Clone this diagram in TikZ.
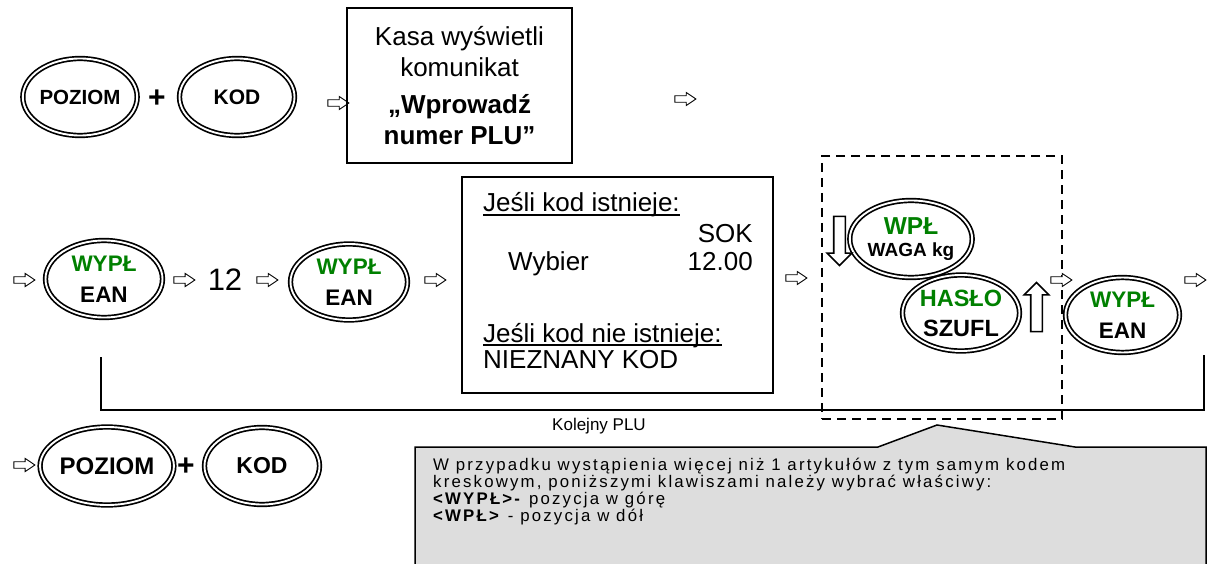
\documentclass[tikz,border=0pt]{standalone}
\usepackage{fontspec}
\setmainfont{Liberation Sans}
\newfontfamily\spacedfont[LetterSpace=13]{Liberation Sans}
\usetikzlibrary{shapes.geometric,shapes.arrows}
\definecolor{keygreen}{RGB}{0,128,0}
\definecolor{calloutgray}{RGB}{221,221,221}
\begin{document}
\begin{tikzpicture}[x=1pt,y=-1pt,
  key/.style={ellipse, draw, double, double distance=1.9pt, line width=1.7pt, inner sep=0pt, align=center,
    font=\fontsize{22.5}{31}\selectfont\bfseries},
  harrow/.style={single arrow, draw, fill=white, line width=0.9pt, minimum height=21pt, inner sep=2.8pt,
    single arrow head extend=3.3pt, single arrow tip angle=68},
  bigarrow/.style={single arrow, draw, fill=white, line width=1.6pt, minimum height=49pt, inner sep=5pt,
    single arrow head extend=6.5pt},
  plus/.style={inner sep=0pt, font=\fontsize{30}{30}\selectfont\bfseries},
  msgbox/.style={draw, line width=1.8pt, inner sep=0pt},
  boxtext/.style={inner sep=0pt, font=\fontsize{26}{30}\selectfont},
  uline/.style={draw, line width=1.3pt},
  groupbox/.style={draw, dashed, dash pattern=on 9pt off 6pt, line width=1.8pt, inner sep=0pt},
  link/.style={draw, line width=1.6pt}
]
\useasboundingbox (0,0) rectangle (1208,564);

% callout
\draw[fill=calloutgray, line width=1.5pt] (415,575) -- (415,447) -- (878,447) -- (937,425) -- (1075,447) -- (1206,447) -- (1206,575);
\node[anchor=north west, inner sep=0pt, align=left, font=\spacedfont\fontsize{16.8}{14.4}\selectfont] (note) at (433,458)
  {W przypadku wystąpienia więcej niż 1 artykułów z tym samym kodem\\
   kreskowym, poniższymi klawiszami należy wybrać właściwy:\\
   \textbf{<WYPŁ>-} pozycja w górę\\
   \textbf{<WPŁ>} - pozycja w dół};

% row 1
\node[key, minimum width=101pt, minimum height=77pt, font=\fontsize{20.5}{24}\selectfont\bfseries] (poz1) at (80,97) {POZIOM};
\node[plus] (plus1) at (157,99) {+};
\node[key, minimum width=115pt, minimum height=77pt, font=\fontsize{21}{24}\selectfont\bfseries] (kod1) at (237,97) {KOD};
\node[harrow] (a1) at (336,103) {};
\node[msgbox, minimum width=225pt, minimum height=155pt, align=center, font=\fontsize{26}{31}\selectfont] (msg1) at (459.5,85.5)
  {Kasa wyświetli\\komunikat\\[6pt]\textbf{„Wprowadź}\\\textbf{numer PLU”}};
\node[harrow] (a2) at (683,99) {};

% row 2
\node[harrow] (b0) at (22,280) {};
\node[key, minimum width=117pt, minimum height=77pt] (wy1) at (104,279) {\textcolor{keygreen}{WYPŁ}\\EAN};
\node[harrow] (b1) at (182,280) {};
\node[inner sep=0pt, font=\fontsize{31}{31}\selectfont] (num12) at (225,280) {12};
\node[harrow] (b2) at (265,280) {};
\node[key, minimum width=117pt, minimum height=76pt] (wy2) at (349,282) {\textcolor{keygreen}{WYPŁ}\\EAN};
\node[harrow] (b3) at (433,280) {};

\node[msgbox, minimum width=311pt, minimum height=216pt] (disp) at (617.5,285) {};
\node[boxtext, anchor=base west] (t1) at (483,212) {Jeśli kod istnieje:};
\draw[uline] ([yshift=-3pt]t1.base west) -- ([yshift=-3pt]t1.base east);
\node[boxtext, anchor=base east] (t2) at (753,243) {SOK};
\node[boxtext, anchor=base west] (t3) at (508,270) {Wybier};
\node[boxtext, anchor=base east] (t4) at (753,270) {12.00};
\node[boxtext, anchor=base west] (t5) at (483,342) {Jeśli kod nie istnieje:};
\draw[uline] ([yshift=-3pt]t5.base west) -- ([yshift=-3pt]t5.base east);
\node[boxtext, anchor=base west] (t6) at (483,368) {NIEZNANY KOD};
\node[harrow] (b4) at (794,278) {};

\node[groupbox, minimum width=240pt, minimum height=263pt] (group) at (942,287.5) {};
\node[key, minimum width=118pt, minimum height=77pt, font=\fontsize{24.5}{22}\selectfont\bfseries] (wpl) at (911,239)
  {\textcolor{keygreen}{WPŁ}\\{\fontsize{19}{22}\selectfont WAGA kg}};
\node[key, minimum width=117pt, minimum height=76pt, font=\fontsize{23.5}{30}\selectfont\bfseries] (has) at (961,313)
  {\textcolor{keygreen}{HASŁO}\\SZUFL};
\node[bigarrow, rotate=-90] (down) at (839.5,238) {};
\node[bigarrow, rotate=90] (up) at (1036.5,310) {};
\node[harrow] (b5) at (1059,280) {};
\node[key, minimum width=114pt, minimum height=75pt] (wy3) at (1122.5,315) {\textcolor{keygreen}{WYPŁ}\\EAN};
\node[harrow] (b6) at (1193,280) {};

% feedback loop
\coordinate (fb1) at (101,357);
\coordinate (fb2) at (101,410);
\coordinate (fb3) at (1204,410);
\coordinate (fb4) at (1204,355);
\draw[link] (fb1) -- (fb2) -- (fb3) -- (fb4);
\node[inner sep=0pt, font=\fontsize{17}{17}\selectfont] (next) at (599,426) {Kolejny PLU};

% row 3
\node[harrow] (c0) at (22,465) {};
\node[key, minimum width=115pt, minimum height=78pt, font=\fontsize{24}{28}\selectfont\bfseries] (poz3) at (107,466) {POZIOM};
\node[plus] (plus3) at (186,467) {+};
\node[key, minimum width=115pt, minimum height=77pt, font=\fontsize{23}{28}\selectfont\bfseries] (kod3) at (262,466) {KOD};
\end{tikzpicture}
\end{document}
